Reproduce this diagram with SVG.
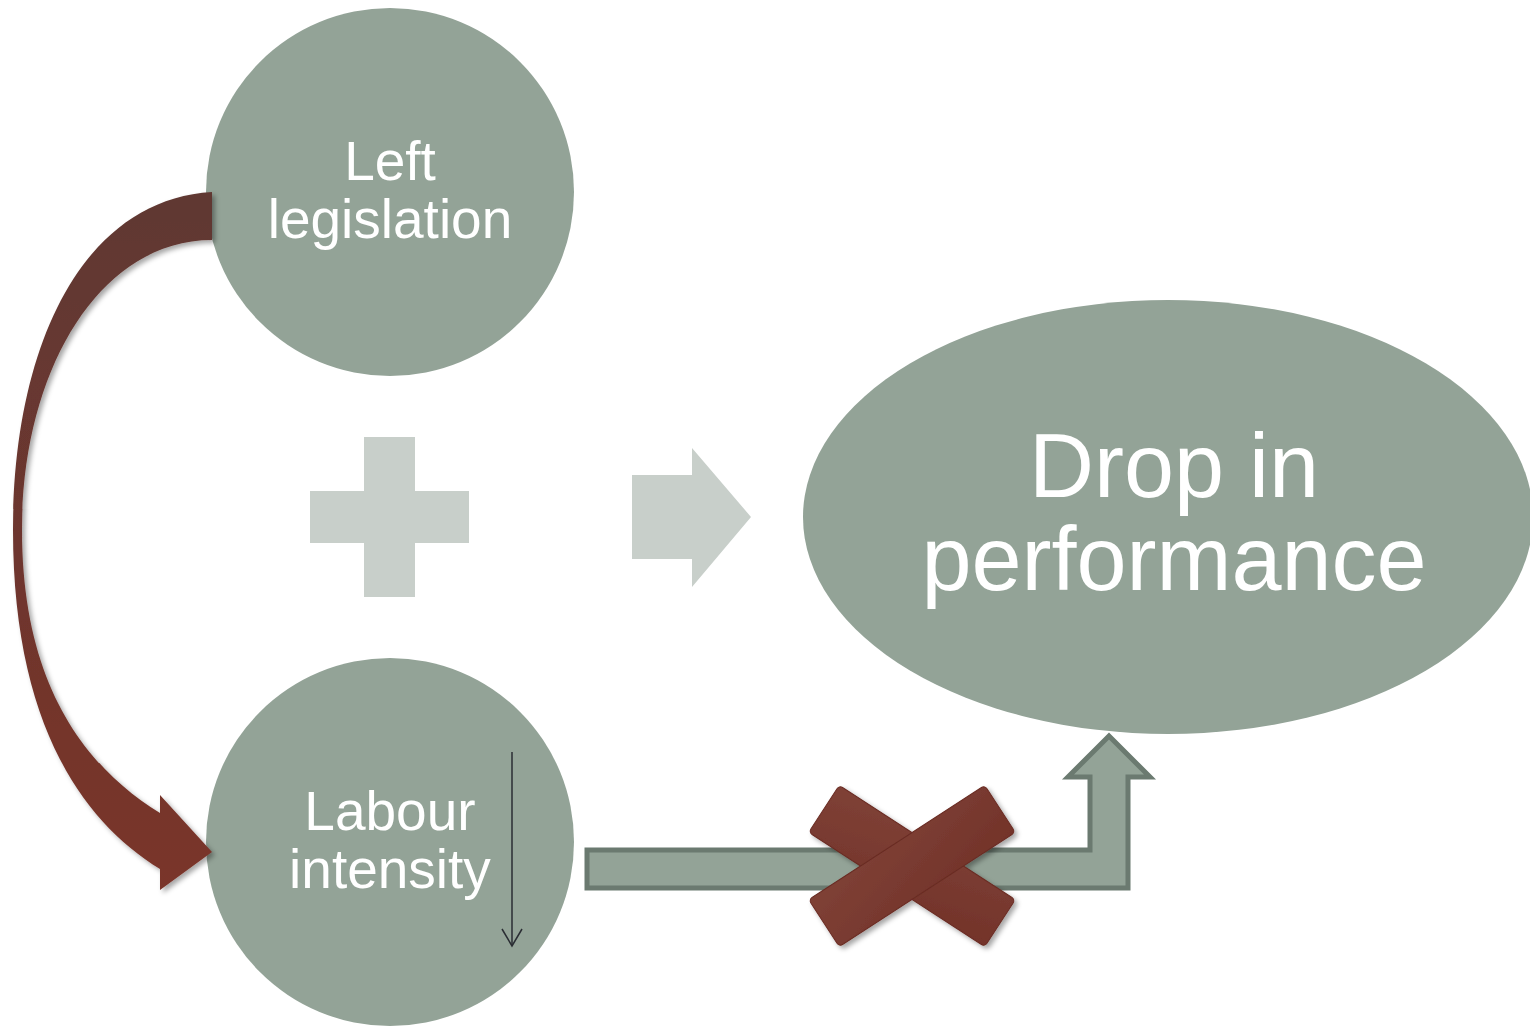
<svg xmlns="http://www.w3.org/2000/svg" width="1530" height="1026" viewBox="0 0 1530 1026">
<style>
.node{fill:#93a397}
.lbl{fill:#ffffff;font-family:"Liberation Sans",Arial,sans-serif;text-anchor:middle}
.op{fill:#c8cfca}
.xbar{fill:url(#xg);stroke:#6a2c24;stroke-width:1}
</style>
<defs>
<linearGradient id="brown" x1="0" y1="0" x2="0" y2="1">
<stop offset="0" stop-color="#603833"/>
<stop offset="1" stop-color="#7a3429"/>
</linearGradient>
<linearGradient id="xg" x1="0" y1="0" x2="1" y2="1">
<stop offset="0" stop-color="#7f4136"/>
<stop offset="1" stop-color="#73332a"/>
</linearGradient>
<filter id="sh" x="-20%" y="-20%" width="140%" height="140%">
<feDropShadow dx="3" dy="3" stdDeviation="2.5" flood-color="#000" flood-opacity="0.35"/>
</filter>
</defs>
<rect width="1530" height="1026" fill="#ffffff"/>

<g id="node-left-legislation">
<circle class="node" cx="390" cy="192" r="184"/>
<text class="lbl" x="390" y="180" font-size="55">Left</text>
<text class="lbl" x="390" y="238" font-size="55">legislation</text>
</g>

<g id="node-labour-intensity">
<circle class="node" cx="390" cy="842" r="184"/>
<text class="lbl" x="390" y="830" font-size="55">Labour</text>
<text class="lbl" x="390" y="888" font-size="55">intensity</text>
<line x1="512" y1="752" x2="512" y2="945" stroke="#2a2d33" stroke-width="1.5"/>
<path d="M502,929 L512,946 L522,929" fill="none" stroke="#2a2d33" stroke-width="1.5"/>
</g>

<g id="node-drop-in-performance">
<ellipse class="node" cx="1168" cy="517" rx="365" ry="217"/>
<text class="lbl" x="1174" y="497" font-size="90">Drop in</text>
<text class="lbl" x="1174" y="590" font-size="90">performance</text>
</g>

<g id="operators">
<path class="op" d="M364,437 H415 V491 H469 V543 H415 V597 H364 V543 H310 V491 H364 Z"/>
<path class="op" d="M632,475 H692 V448 L751,517 L692,587 V559 H632 Z"/>
</g>

<g id="connectors">
<path filter="url(#sh)" fill="url(#brown)" d="M212,192 C80,200 13,350 13,530 C13,720 80,820 160,869 L160,890 L212,852 L160,795 L160,813 C90,770 22,690 22,530 C22,370 100,240 212,240 Z"/>
<path fill="#93a397" stroke="#6b7a70" stroke-width="5" stroke-linejoin="miter" d="M587,850 L1090,850 L1090,777 L1068,777 L1109,736 L1150,777 L1128,777 L1128,888 L587,888 Z"/>
<g id="cross" filter="url(#sh)">
<rect class="xbar" x="807" y="838" width="210" height="56" rx="4" transform="rotate(33 912 866)"/>
<rect class="xbar" x="807" y="838" width="210" height="56" rx="4" transform="rotate(-33 912 866)"/>
</g>
</g>
</svg>
